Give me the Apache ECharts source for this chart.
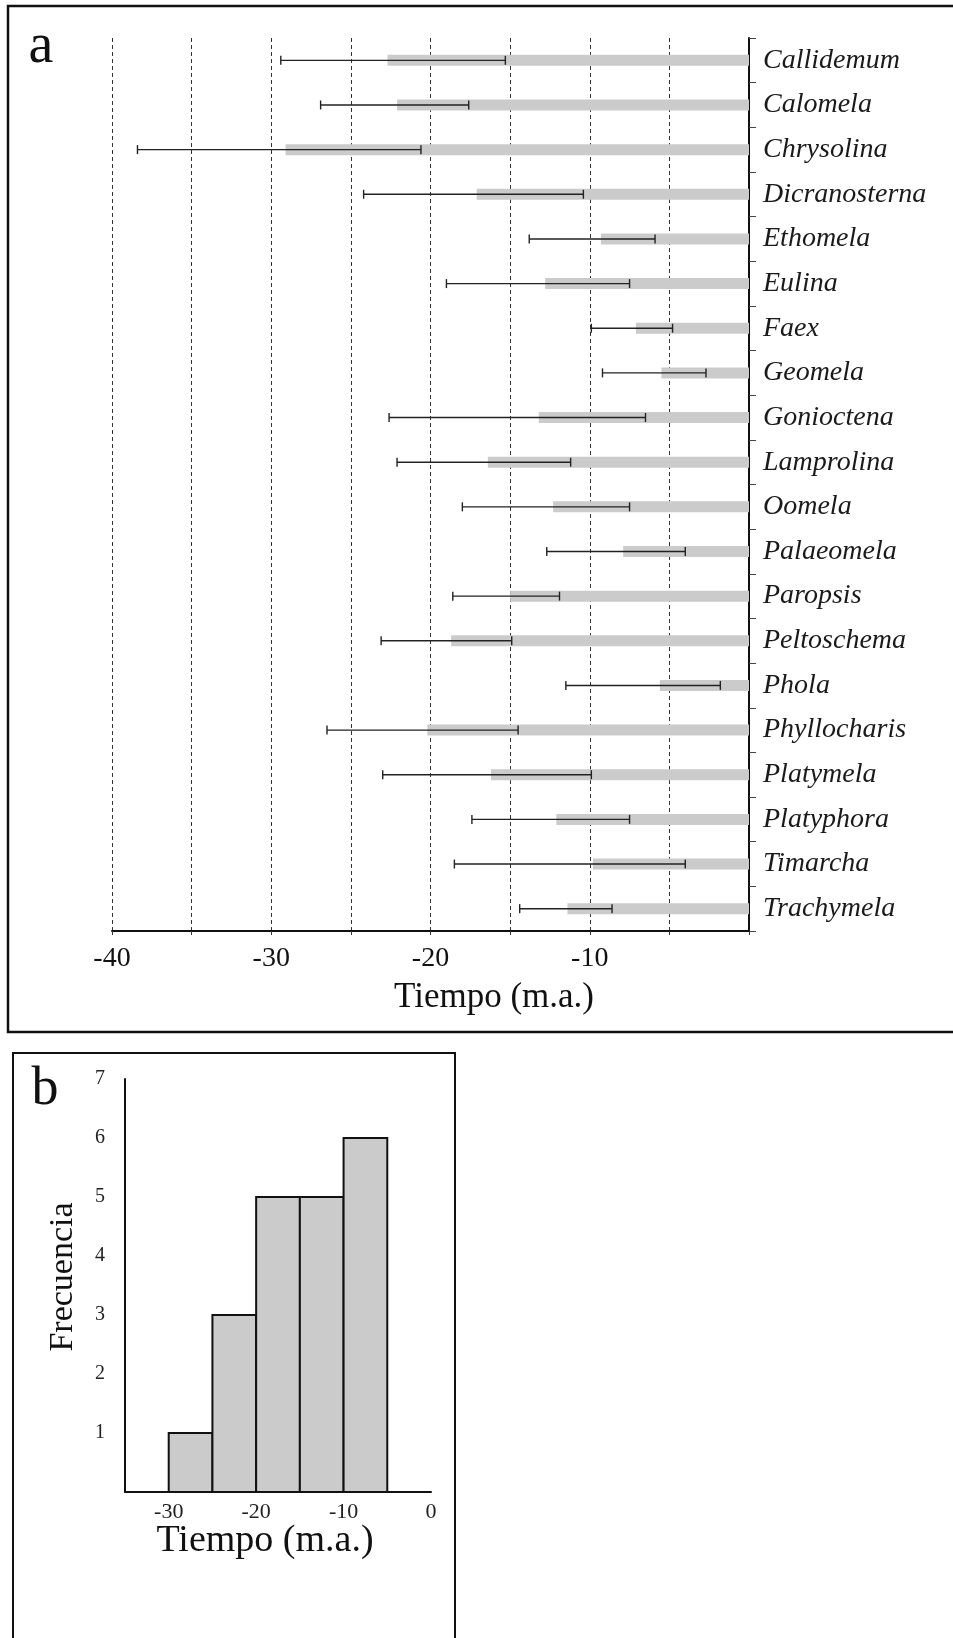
<!DOCTYPE html>
<html>
<head>
<meta charset="utf-8">
<script src="https://cdn.jsdelivr.net/npm/echarts@6/dist/echarts.min.js"></script>
<style>
  html, body { margin: 0; padding: 0; background: #fff; }
  #chart { width: 953px; height: 1638px; }
</style>
</head>
<body>
<div id="chart"></div>
<script>
// ---- Panel a data ----
var categories = ['Callidemum','Calomela','Chrysolina','Dicranosterna','Ethomela','Eulina','Faex','Geomela','Gonioctena','Lamprolina','Oomela','Palaeomela','Paropsis','Peltoschema','Phola','Phyllocharis','Platymela','Platyphora','Timarcha','Trachymela'];
var meanAge  = [-22.7,-22.1,-29.1,-17.1,-9.3,-12.8,-7.1,-5.5,-13.2,-16.4,-12.3,-7.9,-15.0,-18.7,-5.6,-20.2,-16.2,-12.1,-9.8,-11.4];
var lowerAge = [-29.4,-26.9,-38.4,-24.2,-13.8,-19.0,-9.9,-9.2,-22.6,-22.1,-18.0,-12.7,-18.6,-23.1,-11.5,-26.5,-23.0,-17.4,-18.5,-14.4];
var upperAge = [-15.3,-17.6,-20.6,-10.4,-5.9,-7.5,-4.8,-2.7,-6.5,-11.2,-7.5,-4.0,-11.9,-14.9,-1.8,-14.5,-9.9,-7.5,-4.0,-8.6];
var xTicksA = [-40,-30,-20,-10];

// ---- Panel b data ----
var binStart = [-30,-25,-20,-15,-10];
var binEnd   = [-25,-20,-15,-10,-5];
var frequency = [1,3,5,5,6];
var xTicksB = [-30,-20,-10,0];

var serif = "'Liberation Serif','Times New Roman',serif";

var errData = categories.map(function (c, i) { return [lowerAge[i], upperAge[i], i]; });
var histData = binStart.map(function (s, i) { return [s, binEnd[i], frequency[i]]; });

var chart = echarts.init(document.getElementById('chart'), null, { renderer: 'canvas' });

var option = {
  backgroundColor: '#ffffff',
  animation: false,
  grid: [
    { left: 112, right: 204, top: 38, height: 893, containLabel: false },
    { left: 125, right: 522, top: 1079, height: 413, containLabel: false }
  ],
  xAxis: [
    {
      gridIndex: 0, type: 'value', min: -40, max: 0, interval: 5,
      axisLine: { show: true, onZero: false, lineStyle: { color: '#111', width: 2 } },
      axisTick: { show: true, length: 4, lineStyle: { color: '#333' } },
      axisLabel: {
        fontFamily: serif, fontSize: 28, color: '#111', margin: 14,
        formatter: function (v) { return xTicksA.indexOf(v) >= 0 ? String(v) : ''; }
      },
      splitLine: { show: true, showMaxLine: false, showMinLine: true, lineStyle: { color: '#333', width: 1, type: [4, 3] } }
    },
    {
      gridIndex: 1, type: 'value', min: -35, max: 0, interval: 5,
      axisLine: { show: true, onZero: false, lineStyle: { color: '#111', width: 2 } },
      axisTick: { show: false },
      axisLabel: {
        fontFamily: serif, fontSize: 22, color: '#222', margin: 9,
        formatter: function (v) { return xTicksB.indexOf(v) >= 0 ? String(v) : ''; }
      },
      splitLine: { show: false }
    }
  ],
  yAxis: [
    {
      gridIndex: 0, type: 'category', data: categories, inverse: true, position: 'right',
      boundaryGap: true,
      axisLine: { show: true, lineStyle: { color: '#111', width: 2 } },
      axisTick: { show: true, inside: false, length: 7, lineStyle: { color: '#444', width: 1 } },
      axisLabel: { fontFamily: serif, fontStyle: 'italic', fontSize: 28, color: '#1a1a1a', margin: 14 },
      splitLine: { show: false }
    },
    {
      gridIndex: 1, type: 'value', min: 0, max: 7, interval: 1,
      axisLine: { show: true, onZero: false, lineStyle: { color: '#111', width: 2 } },
      axisTick: { show: false },
      axisLabel: {
        fontFamily: serif, fontSize: 20, color: '#222', margin: 20,
        formatter: function (v) { return v === 0 ? '' : String(v); }
      },
      splitLine: { show: false }
    }
  ],
  series: [
    {
      type: 'bar', xAxisIndex: 0, yAxisIndex: 0,
      data: meanAge, barWidth: 11,
      itemStyle: { color: '#cbcbcb' },
      z: 2
    },
    {
      type: 'custom', xAxisIndex: 0, yAxisIndex: 0,
      data: errData,
      encode: { x: [0, 1], y: 2 },
      z: 5,
      renderItem: function (params, api) {
        var lo = api.coord([api.value(0), api.value(2)]);
        var hi = api.coord([api.value(1), api.value(2)]);
        var h = 4.5;
        var st = { stroke: '#222', lineWidth: 1.4 };
        return {
          type: 'group',
          children: [
            { type: 'line', shape: { x1: lo[0], y1: lo[1], x2: hi[0], y2: hi[1] }, style: st },
            { type: 'line', shape: { x1: lo[0], y1: lo[1] - h, x2: lo[0], y2: lo[1] + h }, style: st },
            { type: 'line', shape: { x1: hi[0], y1: hi[1] - h, x2: hi[0], y2: hi[1] + h }, style: st }
          ]
        };
      }
    },
    {
      type: 'custom', xAxisIndex: 1, yAxisIndex: 1,
      data: histData,
      encode: { x: [0, 1], y: 2 },
      renderItem: function (params, api) {
        var p0 = api.coord([api.value(0), api.value(2)]);
        var p1 = api.coord([api.value(1), 0]);
        return {
          type: 'rect',
          shape: { x: p0[0], y: p0[1], width: p1[0] - p0[0], height: p1[1] - p0[1] },
          style: { fill: '#cbcbcb', stroke: '#111', lineWidth: 2 }
        };
      }
    }
  ],
  graphic: [
    { type: 'rect', shape: { x: 8, y: 6, width: 970, height: 1026 }, style: { fill: 'none', stroke: '#111', lineWidth: 2.5 }, z: -1 },
    { type: 'rect', shape: { x: 13, y: 1053, width: 442, height: 700 }, style: { fill: 'none', stroke: '#111', lineWidth: 2 }, z: -1 },
    { type: 'text', x: 41, y: 47, style: { text: 'a', font: '56px ' + serif, fill: '#111', textAlign: 'center', textVerticalAlign: 'middle' } },
    { type: 'text', x: 494, y: 998, style: { text: 'Tiempo (m.a.)', font: '35px ' + serif, fill: '#111', textAlign: 'center', textVerticalAlign: 'middle' } },
    { type: 'text', x: 45, y: 1090, style: { text: 'b', font: '54px ' + serif, fill: '#111', textAlign: 'center', textVerticalAlign: 'middle' } },
    { type: 'text', x: 265, y: 1541, style: { text: 'Tiempo (m.a.)', font: '38px ' + serif, fill: '#111', textAlign: 'center', textVerticalAlign: 'middle' } },
    { type: 'text', x: 63, y: 1277, rotation: Math.PI / 2, style: { text: 'Frecuencia', font: '34px ' + serif, fill: '#111', textAlign: 'center', textVerticalAlign: 'middle' } }
  ]
};
chart.setOption(option);
</script>
</body>
</html>
